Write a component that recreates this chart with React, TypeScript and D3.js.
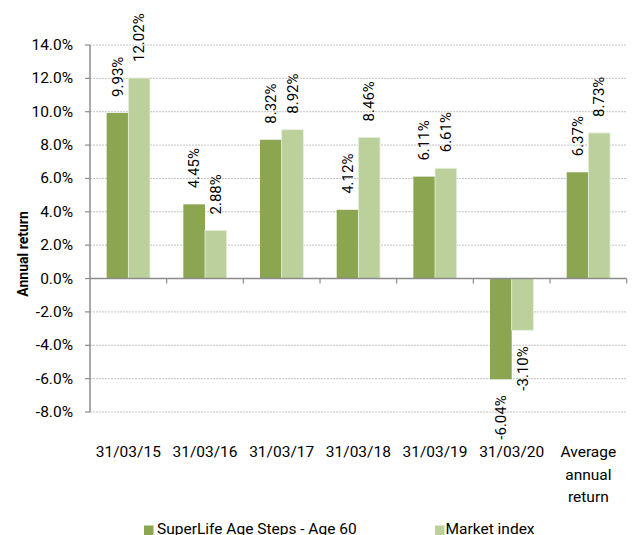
import * as d3 from 'd3';

const categories = ['31/03/15', '31/03/16', '31/03/17', '31/03/18', '31/03/19', '31/03/20', 'Average\nannual\nreturn'];
const seriesNames = ['SuperLife Age Steps - Age 60', 'Market index'];
const ageSteps = [9.93, 4.45, 8.32, 4.12, 6.11, -6.04, 6.37];
const marketIndex = [12.02, 2.88, 8.92, 8.46, 6.61, -3.1, 8.73];
const yTicks = [14, 12, 10, 8, 6, 4, 2, 0, -2, -4, -6, -8];
const colors = ['#8BA551', '#BBD09A'];

const W = 635;
const H = 535;
const FONT = 'Roboto, sans-serif';

export default function App() {
  const left = 90;
  const right = 626.7;
  const top = 45;
  const bottom = 412;

  const y = d3.scaleLinear().domain([-8, 14]).range([bottom, top]);
  const x = d3.scaleBand<string>().domain(categories).range([left, right]).padding(0);
  const bw = x.bandwidth();
  const xs = d3.scaleBand<string>().domain(seriesNames).range([bw * 0.2174, bw * 0.7826]).padding(0);
  const seriesValues = [ageSteps, marketIndex];
  const fmt = (v: number) => v.toFixed(2) + '%';

  return (
    <svg width={W} height={H} style={{ position: 'absolute', left: 0, top: 0, background: '#fff' }} fontFamily={FONT}>
      {/* gridlines */}
      {yTicks.filter(t => t !== 0).map(t => (
        <line key={'g' + t} x1={left} x2={right} y1={y(t)} y2={y(t)} stroke="#c4c4c4" strokeWidth={1} strokeDasharray="2,1" />
      ))}

      {/* bars */}
      {seriesNames.map((s, si) =>
        categories.map((c, ci) => {
          const v = seriesValues[si][ci];
          const bx = (x(c) ?? 0) + (xs(s) ?? 0);
          const y0 = y(Math.max(0, v));
          const h = Math.abs(y(v) - y(0));
          return (
            <rect key={s + c} x={bx} y={y0} width={xs.bandwidth()} height={h} fill={colors[si]}
              stroke={si === 1 ? '#e8efdc' : 'none'} strokeWidth={si === 1 ? 0.8 : 0} />
          );
        })
      )}

      {/* y axis */}
      <line x1={left} x2={left} y1={top} y2={bottom} stroke="#8c8c8c" strokeWidth={1.5} />
      {yTicks.map(t => (
        <g key={'t' + t}>
          <line x1={left - 5} x2={left} y1={y(t)} y2={y(t)} stroke="#8c8c8c" strokeWidth={1.2} />
          <text x={73} y={y(t)} textAnchor="end" dominantBaseline="central" fontSize={15.5} fill="#000">
            {t.toFixed(1) + '%'}
          </text>
        </g>
      ))}

      {/* zero line with category ticks */}
      <line x1={left} x2={right} y1={y(0)} y2={y(0)} stroke="#8c8c8c" strokeWidth={1.5} />
      {categories.map((c, i) => (
        <line key={'ct' + i} x1={(x(c) ?? 0) + bw} x2={(x(c) ?? 0) + bw} y1={y(0)} y2={y(0) + 5} stroke="#8c8c8c" strokeWidth={1.2} />
      ))}

      {/* data labels */}
      {seriesNames.map((s, si) =>
        categories.map((c, ci) => {
          const v = seriesValues[si][ci];
          const cx = (x(c) ?? 0) + (xs(s) ?? 0) + xs.bandwidth() / 2;
          const ly = v >= 0 ? y(v) - 16 : y(v) + 16;
          return (
            <text key={'l' + s + c} transform={`translate(${cx},${ly}) rotate(-90)`}
              textAnchor={v >= 0 ? 'start' : 'end'} dominantBaseline="central" fontSize={15} fill="#000">
              {fmt(v)}
            </text>
          );
        })
      )}

      {/* category labels */}
      {categories.map((c, i) => (
        <text key={'c' + i} x={(x(c) ?? 0) + bw / 2} y={457} textAnchor="middle" fontSize={15.5} fill="#000">
          {c.split('\n').map((ln, j) => (
            <tspan key={j} x={(x(c) ?? 0) + bw / 2} dy={j === 0 ? 0 : 22.7}>{ln}</tspan>
          ))}
        </text>
      ))}

      {/* y axis title */}
      <text transform={`translate(23,254) rotate(-90)`} textAnchor="middle" dominantBaseline="central"
        fontSize={14} fontWeight="bold" fill="#000">
        Annual return
      </text>

      {/* legend */}
      <rect x={144} y={525.5} width={9.5} height={9.5} fill={colors[0]} />
      <text x={157} y={534} fontSize={15.5} fill="#000">{seriesNames[0]}</text>
      <rect x={435} y={525.5} width={9.5} height={9.5} fill={colors[1]} />
      <text x={445.5} y={534} fontSize={15.5} fill="#000">{seriesNames[1]}</text>
    </svg>
  );
}
